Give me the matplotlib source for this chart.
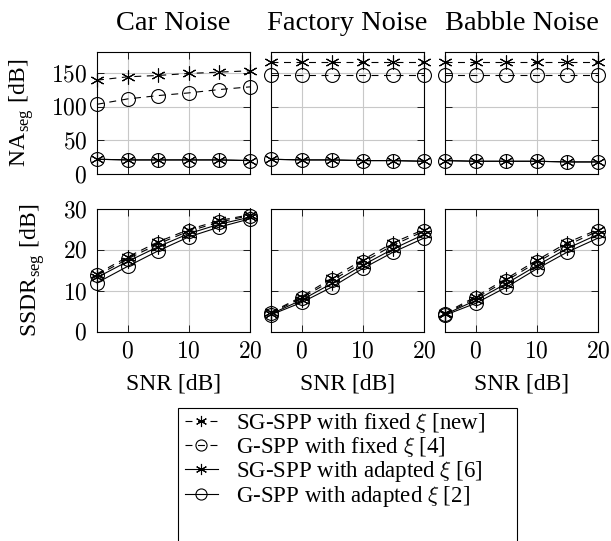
import numpy as np
import matplotlib
matplotlib.use('Agg')
import matplotlib.pyplot as plt
from matplotlib.ticker import FuncFormatter
from matplotlib.patches import Rectangle

matplotlib.rc('font', family='serif', serif=['Liberation Serif'], size=17)
matplotlib.rc('mathtext', fontset='cm')
matplotlib.rc('lines', scale_dashes=False)

snr = [-5, 0, 5, 10, 15, 20]
noises = ['Car Noise', 'Factory Noise', 'Babble Noise']
methods = [r'SG-SPP with fixed $\xi$ [new]', r'G-SPP with fixed $\xi$ [4]',
           r'SG-SPP with adapted $\xi$ [6]', r'G-SPP with adapted $\xi$ [2]']

# NA_seg [dB], per noise: sg fixed, g fixed, sg adapted, g adapted
na_car = [[140, 145, 147, 150, 152, 154],
          [104, 112, 117, 121, 126, 130],
          [22, 21, 21, 21, 21, 20],
          [22, 21, 21, 21, 21, 20]]
na_factory = [[167, 167, 167, 167, 167, 167],
              [148, 148, 148, 148, 148, 148],
              [22, 21, 21, 20, 20, 19],
              [22, 21, 21, 20, 20, 19]]
na_babble = [[167, 167, 167, 167, 167, 167],
             [147, 147, 147, 147, 147, 147],
             [20, 19, 19, 19, 18, 18],
             [20, 19, 19, 19, 18, 18]]

# SSDR_seg [dB]
ssdr_car = [[14.2, 18.3, 22.0, 25.0, 27.2, 28.6],
            [13.8, 17.8, 21.5, 24.6, 26.8, 28.4],
            [13.3, 17.2, 20.8, 24.0, 26.3, 28.0],
            [12.0, 16.0, 19.8, 23.2, 25.6, 27.6]]
ssdr_factory = [[4.8, 8.6, 13.2, 17.6, 21.8, 25.0],
                [4.6, 8.3, 12.6, 17.0, 21.2, 24.6],
                [4.4, 7.8, 11.9, 16.3, 20.3, 23.8],
                [4.2, 7.2, 11.0, 15.5, 19.5, 22.9]]
ssdr_babble = [[4.6, 8.6, 13.0, 17.5, 21.8, 25.0],
               [4.4, 8.2, 12.5, 17.0, 21.2, 24.6],
               [4.3, 7.7, 11.8, 16.2, 20.4, 23.8],
               [4.1, 7.0, 10.9, 15.4, 19.5, 22.9]]

na_all = [na_car, na_factory, na_babble]
ssdr_all = [ssdr_car, ssdr_factory, ssdr_babble]

styles = [dict(marker=(6, 2, 0), dashes=(5, 4)),
          dict(marker='o', dashes=(5, 4)),
          dict(marker=(6, 2, 0), linestyle='-'),
          dict(marker='o', linestyle='-')]

W, H = 611, 541
fig = plt.figure(figsize=(W / 100, H / 100), dpi=100)

cols = [(97, 250), (271, 424), (445, 598)]
rows = [(52, 174), (209, 332)]

mathfmt = FuncFormatter(lambda v, p: r'$%g$' % v)

handles = []
for r, (top, bot) in enumerate(rows):
    for c, (left, right) in enumerate(cols):
        ax = fig.add_axes([left / W, 1 - bot / H, (right - left) / W, (bot - top) / H])
        data = na_all[c] if r == 0 else ssdr_all[c]
        for k in range(4):
            ln, = ax.plot(snr, data[k], color='black', lw=0.8, markersize=10,
                          markerfacecolor='none', markeredgewidth=0.8,
                          clip_on=False, label=methods[k], **styles[k])
            if r == 0 and c == 0:
                handles.append(ln)
        ax.set_xlim(-5, 20)
        ax.set_xticks([0, 10, 20])
        if r == 0:
            ax.set_ylim(0, 182)
            ax.set_yticks([0, 50, 100, 150])
            ax.set_xticklabels([])
            ax.set_title(noises[c], pad=16)
        else:
            ax.set_ylim(0, 30)
            ax.set_yticks([0, 10, 20, 30])
            ax.xaxis.set_major_formatter(mathfmt)
            ax.set_xlabel('SNR [dB]', labelpad=8)
        if c == 0:
            ax.yaxis.set_major_formatter(mathfmt)
        else:
            ax.set_yticklabels([])
        ax.grid(True, color='#c8c8c8', lw=0.8)
        ax.set_axisbelow(True)
        ax.tick_params(direction='in', length=5, width=0.6, top=True, right=True, pad=7)
        for s in ax.spines.values():
            s.set_linewidth(0.8)

fig.text(22 / W, 1 - 113 / H, r'NA$_\mathregular{seg}$ [dB]', rotation=90, ha='center', va='center')
fig.text(33 / W, 1 - 270 / H, r'SSDR$_\mathregular{seg}$ [dB]', rotation=90, ha='center', va='center')

fig.patches.append(Rectangle((178 / W, -0.1), (517 - 178) / W, 0.1 + 1 - 408 / H,
                             transform=fig.transFigure, fill=False, lw=0.8,
                             edgecolor='black', clip_on=False))
leg = fig.legend(handles=handles, loc='upper left', bbox_to_anchor=(180 / W, 1 - 406 / H),
                 frameon=False, numpoints=1, handlelength=1.45, handletextpad=0.8,
                 labelspacing=0.0, borderpad=0.2, borderaxespad=0, fontsize=16.5)
for h in leg.legend_handles:
    h.set_markersize(8)

fig.savefig('out.png', dpi=100)
